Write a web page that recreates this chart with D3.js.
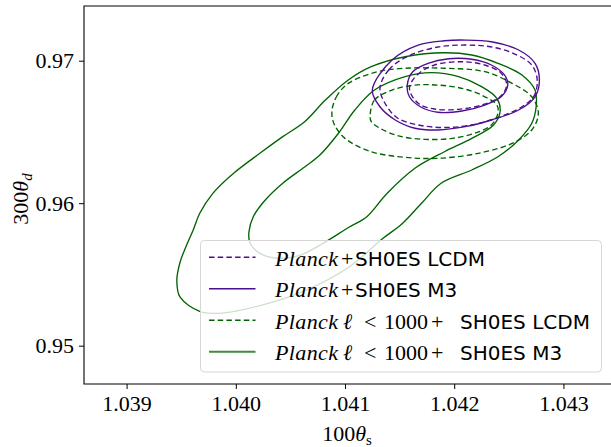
<!DOCTYPE html>
<html><head><meta charset="utf-8">
<script src="https://cdn.jsdelivr.net/npm/d3@7"></script>
<style>
html,body{margin:0;padding:0;background:#fff;}
svg{display:block;}
</style></head>
<body>
<svg id="chart" width="611" height="447"></svg>
<script>
// ---- data (100θs, 300θd) contour vertices ----
const xTicks = [1.039, 1.040, 1.041, 1.042, 1.043];
const xTickLabels = ["1.039", "1.040", "1.041", "1.042", "1.043"];
const yTicks = [0.95, 0.96, 0.97];
const yTickLabels = ["0.95", "0.96", "0.97"];

const planckLCDM_2sigma = [[1.04132,0.96808],[1.04140,0.96935],[1.04158,0.97033],[1.04185,0.97096],[1.04210,0.97110],[1.04233,0.97098],[1.04254,0.97052],[1.04271,0.96970],[1.04276,0.96865],[1.04273,0.96752],[1.04262,0.96677],[1.04240,0.96601],[1.04216,0.96549],[1.04191,0.96531],[1.04167,0.96549],[1.04148,0.96598],[1.04137,0.96696]];
const planckLCDM_1sigma = [[1.04159,0.96806],[1.04166,0.96900],[1.04182,0.96970],[1.04207,0.96993],[1.04228,0.96970],[1.04243,0.96912],[1.04248,0.96829],[1.04242,0.96747],[1.04225,0.96689],[1.04204,0.96659],[1.04182,0.96661],[1.04167,0.96701]];
const planckM3_2sigma = [[1.04125,0.96794],[1.04143,0.97005],[1.04167,0.97110],[1.04191,0.97140],[1.04210,0.97145],[1.04234,0.97133],[1.04259,0.97075],[1.04274,0.96982],[1.04278,0.96865],[1.04274,0.96747],[1.04259,0.96654],[1.04234,0.96584],[1.04210,0.96537],[1.04185,0.96514],[1.04164,0.96526],[1.04146,0.96584],[1.04132,0.96677]];
const planckM3_1sigma = [[1.04157,0.96829],[1.04162,0.96923],[1.04176,0.96982],[1.04195,0.97014],[1.04216,0.97010],[1.04234,0.96970],[1.04246,0.96900],[1.04249,0.96829],[1.04243,0.96747],[1.04228,0.96689],[1.04207,0.96647],[1.04185,0.96638],[1.04169,0.96677],[1.04159,0.96747]];
const lowEllLCDM_2sigma = [[1.04088,0.96640],[1.04092,0.96745],[1.04103,0.96841],[1.04130,0.96923],[1.04155,0.96947],[1.04191,0.96947],[1.04228,0.96923],[1.04253,0.96841],[1.04271,0.96747],[1.04277,0.96631],[1.04271,0.96514],[1.04253,0.96420],[1.04222,0.96350],[1.04185,0.96315],[1.04155,0.96322],[1.04124,0.96361],[1.04100,0.96455],[1.04090,0.96556]];
const lowEllLCDM_1sigma = [[1.04123,0.96619],[1.04127,0.96724],[1.04143,0.96794],[1.04164,0.96829],[1.04185,0.96829],[1.04207,0.96806],[1.04225,0.96759],[1.04239,0.96689],[1.04240,0.96631],[1.04234,0.96549],[1.04219,0.96491],[1.04198,0.96455],[1.04173,0.96448],[1.04149,0.96472],[1.04132,0.96526],[1.04124,0.96572]];
const lowEllM3_2sigma = [[1.03949,0.95340],[1.03946,0.95456],[1.03949,0.95587],[1.03955,0.95707],[1.03961,0.95812],[1.03967,0.95929],[1.03979,0.96069],[1.03998,0.96210],[1.04022,0.96350],[1.04043,0.96467],[1.04063,0.96572],[1.04082,0.96724],[1.04103,0.96865],[1.04124,0.96958],[1.04155,0.97028],[1.04191,0.97056],[1.04216,0.97040],[1.04240,0.96982],[1.04262,0.96900],[1.04274,0.96794],[1.04275,0.96677],[1.04271,0.96561],[1.04259,0.96444],[1.04240,0.96326],[1.04216,0.96233],[1.04188,0.96140],[1.04170,0.95999],[1.04152,0.95854],[1.04134,0.95749],[1.04104,0.95554],[1.04065,0.95391],[1.04028,0.95293],[1.03985,0.95227],[1.03967,0.95241]];
const lowEllM3_1sigma = [[1.04127,0.96794],[1.04155,0.96888],[1.04179,0.96916],[1.04204,0.96888],[1.04225,0.96818],[1.04239,0.96736],[1.04242,0.96642],[1.04236,0.96549],[1.04216,0.96455],[1.04191,0.96361],[1.04164,0.96245],[1.04138,0.96065],[1.04120,0.95905],[1.04104,0.95833],[1.04080,0.95719],[1.04059,0.95636],[1.04040,0.95613],[1.04022,0.95648],[1.04013,0.95721],[1.04012,0.95798],[1.04016,0.95905],[1.04027,0.96022],[1.04043,0.96140],[1.04063,0.96254],[1.04077,0.96338],[1.04094,0.96491],[1.04109,0.96654]];

const PURPLE = "#4f0d8f", GREEN = "#006400";
const contours = [
  {pts: lowEllM3_2sigma, color: GREEN, dash: null},
  {pts: lowEllM3_1sigma, color: GREEN, dash: null},
  {pts: lowEllLCDM_2sigma, color: GREEN, dash: "5.5,3.2"},
  {pts: lowEllLCDM_1sigma, color: GREEN, dash: "5.5,3.2"},
  {pts: planckM3_2sigma, color: PURPLE, dash: null},
  {pts: planckM3_1sigma, color: PURPLE, dash: null},
  {pts: planckLCDM_2sigma, color: PURPLE, dash: "5.5,3.2"},
  {pts: planckLCDM_1sigma, color: PURPLE, dash: "5.5,3.2"}
];

// ---- layout ----
const L = 84, T = 6, R = 611.5, B = 384;
const x = d3.scaleLinear().domain([1.03861, 1.04344]).range([L, R]);
const y = d3.scaleLinear().domain([0.94731, 0.97384]).range([B, T]);
const svg = d3.select("#chart");
const SERIF = "'Liberation Serif','Times New Roman',serif";
const SANS = "'DejaVu Sans',sans-serif";

svg.append("defs").append("clipPath").attr("id","clip")
  .append("rect").attr("x",L).attr("y",T).attr("width",R-L).attr("height",B-T);

const line = d3.line().x(d=>x(d[0])).y(d=>y(d[1])).curve(d3.curveCatmullRomClosed.alpha(0.5));
const g = svg.append("g").attr("clip-path","url(#clip)");
contours.forEach(c => {
  g.append("path").attr("d", line(c.pts)).attr("fill","none")
    .attr("stroke", c.color).attr("stroke-width", 1.35)
    .attr("stroke-dasharray", c.dash);
});

// axes
const xAxis = d3.axisBottom(x).tickValues(xTicks).tickFormat((d,i)=>xTickLabels[i]).tickSize(5).tickSizeOuter(0);
const yAxis = d3.axisLeft(y).tickValues(yTicks).tickFormat((d,i)=>yTickLabels[i]).tickSize(5).tickSizeOuter(0);
const gx = svg.append("g").attr("transform",`translate(0,${B})`).call(xAxis);
const gy = svg.append("g").attr("transform",`translate(${L},0)`).call(yAxis);
[gx,gy].forEach(a=>{
  a.select(".domain").remove();
  a.selectAll(".tick line").attr("stroke","#000").attr("stroke-width",1);
  a.selectAll(".tick text").attr("font-family",SERIF).attr("font-size",22).attr("fill","#000");
});
gx.selectAll(".tick text").attr("dy",null).attr("y",26.5);
gy.selectAll(".tick text").attr("dy","0.33em").attr("x",-10);

// spines (left, top, bottom)
svg.append("path").attr("d",`M${R},${T}H${L}V${B}H${R}`).attr("fill","none").attr("stroke","#000").attr("stroke-width",1.1);

// axis labels
const xl = svg.append("text").attr("x",347).attr("y",441).attr("text-anchor","middle")
  .attr("font-family",SERIF).attr("font-size",22).attr("fill","#000");
xl.append("tspan").text("100");
xl.append("tspan").attr("font-style","italic").text("θ");
xl.append("tspan").attr("font-size",15).attr("dy",4).text("s");

const yl = svg.append("text").attr("transform","translate(28,199) rotate(-90)").attr("text-anchor","middle")
  .attr("font-family",SERIF).attr("font-size",22).attr("fill","#000");
yl.append("tspan").text("300");
yl.append("tspan").attr("font-style","italic").text("θ");
yl.append("tspan").attr("font-style","italic").attr("font-size",15).attr("dy",4).text("d");

// legend
const legendLabels = [
  {serif:[["Planck",275,true],["+",341,false]], sans:"SH0ES LCDM", sx:355, color:PURPLE, dash:"5.5,3.2", w:1.4},
  {serif:[["Planck",275,true],["+",341,false]], sans:"SH0ES M3", sx:355, color:PURPLE, dash:null, w:1.4},
  {serif:[["Planck",275,true],["ℓ",343,true],["<",364,false],["1000",384,false],["+",431,false]], sans:"SH0ES LCDM", sx:460, color:GREEN, dash:"5.5,3.2", w:1.4},
  {serif:[["Planck",275,true],["ℓ",343,true],["<",364,false],["1000",384,false],["+",431,false]], sans:"SH0ES M3", sx:460, color:"#3f8b3f", dash:null, w:2}
];
svg.append("rect").attr("x",200.5).attr("y",240.5).attr("width",401).attr("height",131.5)
  .attr("rx",4).attr("fill","#fff").attr("fill-opacity",0.8).attr("stroke","#d6d6d6").attr("stroke-width",1);
legendLabels.forEach((e,i)=>{
  const cy = 257.3 + i*31.5;
  svg.append("line").attr("x1",209).attr("x2",255.5).attr("y1",cy).attr("y2",cy)
    .attr("stroke",e.color).attr("stroke-width",e.w).attr("stroke-dasharray",e.dash);
  e.serif.forEach(s=>{
    const t = svg.append("text").attr("x",s[1]).attr("y",cy+8.2).attr("font-family",SERIF).attr("font-size",22)
      .attr("font-style",s[2]?"italic":"normal").attr("fill","#000").text(s[0]);
    if (s[0] === "Planck") t.attr("textLength",63).attr("lengthAdjust","spacing");
  });
  svg.append("text").attr("x",e.sx).attr("y",cy+8.2).attr("font-family",SANS).attr("font-size",20)
    .attr("fill","#000").text(e.sans);
});
</script>
</body></html>
